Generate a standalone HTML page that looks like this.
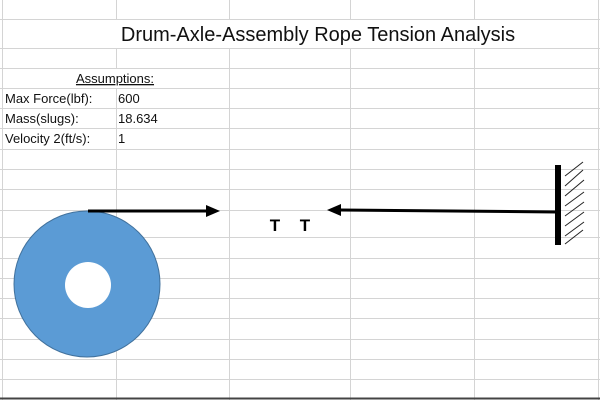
<!DOCTYPE html>
<html><head><meta charset="utf-8"><style>
body{margin:0;width:600px;height:400px;overflow:hidden;background:#fff;font-family:"Liberation Sans",sans-serif}
</style></head><body>
<svg width="600" height="400">
<g stroke="#d4d4d4" stroke-width="1">
<line x1="2.5" y1="0" x2="2.5" y2="400"/><line x1="116.5" y1="0" x2="116.5" y2="400"/>
<line x1="229.5" y1="0" x2="229.5" y2="400"/><line x1="350.5" y1="0" x2="350.5" y2="400"/>
<line x1="474.5" y1="0" x2="474.5" y2="400"/><line x1="598.5" y1="0" x2="598.5" y2="400"/>
<line x1="0" y1="19.5" x2="600" y2="19.5"/><line x1="0" y1="48.5" x2="600" y2="48.5"/>
<line x1="0" y1="68.5" x2="600" y2="68.5"/><line x1="0" y1="88.5" x2="600" y2="88.5"/>
<line x1="0" y1="108.5" x2="600" y2="108.5"/><line x1="0" y1="128.5" x2="600" y2="128.5"/>
<line x1="0" y1="149.5" x2="600" y2="149.5"/><line x1="0" y1="169.5" x2="600" y2="169.5"/>
<line x1="0" y1="189.5" x2="600" y2="189.5"/><line x1="0" y1="210.5" x2="600" y2="210.5"/>
<line x1="0" y1="237.5" x2="600" y2="237.5"/><line x1="0" y1="258.5" x2="600" y2="258.5"/>
<line x1="0" y1="278.5" x2="600" y2="278.5"/><line x1="0" y1="298.5" x2="600" y2="298.5"/>
<line x1="0" y1="318.5" x2="600" y2="318.5"/><line x1="0" y1="339.5" x2="600" y2="339.5"/>
<line x1="0" y1="359.5" x2="600" y2="359.5"/><line x1="0" y1="379.5" x2="600" y2="379.5"/>
</g>
<line x1="0" y1="398.5" x2="600" y2="398.5" stroke="#444" stroke-width="2"/>
<rect x="3" y="20" width="595" height="28" fill="#fff"/>
<text x="318" y="41" font-size="20" text-anchor="middle" fill="#111">Drum-Axle-Assembly Rope Tension Analysis</text>
<rect x="3" y="69" width="226" height="19" fill="#fff"/>
<text x="115" y="83" font-size="13" text-anchor="middle" text-decoration="underline" fill="#111">Assumptions:</text>
<g font-size="13" fill="#111">
<text x="5" y="103">Max Force(lbf):</text>
<text x="118" y="103">600</text>
<text x="5" y="123">Mass(slugs):</text>
<text x="118" y="123">18.634</text>
<text x="5" y="143">Velocity 2(ft/s):</text>
<text x="118" y="143">1</text>
</g>
<g>
<circle cx="87" cy="284" r="73" fill="#5b9bd5" stroke="#41719c" stroke-width="1"/>
<circle cx="88" cy="285" r="23" fill="#fff"/>
</g>
<line x1="88" y1="211" x2="207" y2="211" stroke="#000" stroke-width="3"/>
<polygon points="206,205 220,211 206,217" fill="#000"/>
<line x1="340" y1="210" x2="557" y2="212" stroke="#000" stroke-width="3"/>
<polygon points="341,204 327,210 341,216" fill="#000"/>
<text x="275" y="231" font-size="17" font-weight="bold" text-anchor="middle">T</text>
<text x="305" y="231" font-size="17" font-weight="bold" text-anchor="middle">T</text>
<rect x="555" y="165" width="6" height="80" fill="#000"/>
<g stroke="#222" stroke-width="1">
<line x1="565" y1="176" x2="583" y2="162"/><line x1="565" y1="186" x2="583" y2="170"/>
<line x1="565" y1="196" x2="584" y2="180"/><line x1="565" y1="206" x2="584" y2="192"/>
<line x1="565" y1="216" x2="584" y2="202"/><line x1="565" y1="226" x2="584" y2="212"/>
<line x1="565" y1="236" x2="584" y2="222"/><line x1="565" y1="244" x2="583" y2="230"/>
</g>
</svg>
</body></html>
